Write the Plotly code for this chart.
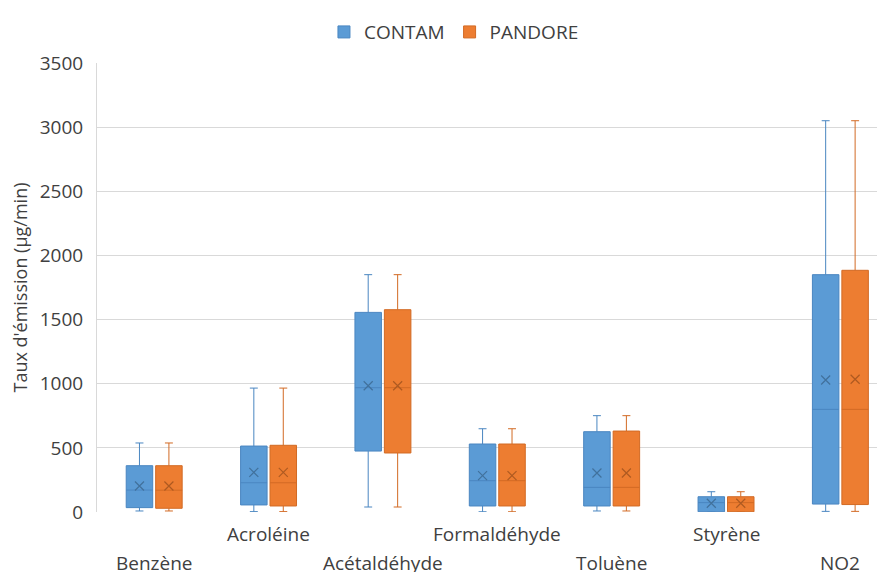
import plotly.graph_objects as go

categories = ["Benzène", "Acroléine", "Acétaldéhyde", "Formaldéhyde", "Toluène", "Styrène", "NO2"]

contam_min = [8, 3, 39, 2, 8, 0, 5]
contam_q1 = [34, 55, 475, 47, 47, 2, 62]
contam_median = [171, 228, 969, 244, 192, 73, 800]
contam_q3 = [361, 514, 1556, 530, 626, 119, 1850]
contam_max = [538, 966, 1850, 649, 751, 158, 3050]
contam_mean = [203, 309, 984, 283, 304, 68, 1029]

pandore_min = [8, 3, 39, 2, 8, 0, 5]
pandore_q1 = [29, 47, 460, 47, 47, 2, 58]
pandore_median = [170, 228, 969, 244, 192, 73, 800]
pandore_q3 = [361, 520, 1577, 530, 631, 119, 1884]
pandore_max = [538, 966, 1850, 649, 751, 158, 3050]
pandore_mean = [203, 309, 984, 283, 304, 68, 1035]

y_ticks = [0, 500, 1000, 1500, 2000, 2500, 3000, 3500]

FONT = "Open Sans"
TXT = "#404040"
BLUE, BLUE_D, BLUE_M = "#5B9BD5", "#4A86C1", "#41719C"
ORANGE, ORANGE_D, ORANGE_M = "#ED7D31", "#D26A24", "#AE5A21"
GAP = 0.485

fig = go.Figure()
for name, lo, q1, med, q3, hi, mean, fc, lc, mc in [
    ("CONTAM", contam_min, contam_q1, contam_median, contam_q3, contam_max, contam_mean, BLUE, BLUE_D, BLUE_M),
    ("PANDORE", pandore_min, pandore_q1, pandore_median, pandore_q3, pandore_max, pandore_mean, ORANGE, ORANGE_D, ORANGE_M),
]:
    fig.add_trace(go.Box(
        name=name, x=categories, q1=q1, median=med, q3=q3,
        lowerfence=lo, upperfence=hi, boxpoints=False,
        fillcolor=fc, line=dict(color=lc, width=1), whiskerwidth=0.3,
        offsetgroup=name, legendgroup=name,
    ))
    fig.add_trace(go.Scatter(
        name=name, x=categories, y=mean, mode="markers", showlegend=False,
        marker=dict(symbol="x-thin", size=9, line=dict(width=1.2, color=mc)),
        offsetgroup=name, legendgroup=name, hoverinfo="skip",
    ))

for i, c in enumerate(categories):
    upper = i % 2 == 1
    fig.add_annotation(
        x=c, xref="x", y=0, yref="paper", yanchor="top",
        text=c, showarrow=False, yshift=-7 if upper else -36,
        font=dict(family=FONT, size=19, color=TXT),
    )

fig.update_layout(
    width=877, height=564,
    margin=dict(l=89, r=0, t=55, b=60, autoexpand=False),
    paper_bgcolor="white", plot_bgcolor="white",
    boxmode="group", boxgap=GAP, boxgroupgap=0.1,
    scattermode="group", scattergap=GAP,
    font=dict(family=FONT, size=19, color=TXT),
    legend=dict(orientation="h", x=0.453, xanchor="center", y=0.991, yref="container",
                yanchor="top", font=dict(family=FONT, size=19, color=TXT),
                itemwidth=30, traceorder="normal"),
    showlegend=True,
    xaxis=dict(type="category", range=[-0.5, 6.39], showticklabels=False,
               showgrid=False, zeroline=False, showline=False, ticks=""),
    yaxis=dict(range=[0, 3500], tickvals=y_ticks, showgrid=True, gridcolor="#D9D9D9",
               gridwidth=1, zeroline=False, showline=True, linecolor="#D9D9D9",
               ticks="", ticklabelstandoff=9,
               title=dict(text="Taux d'émission (µg/min)", font=dict(family=FONT, size=18, color=TXT), standoff=10),
               tickfont=dict(family=FONT, size=19, color=TXT)),
)

fig.write_html("out.html")
